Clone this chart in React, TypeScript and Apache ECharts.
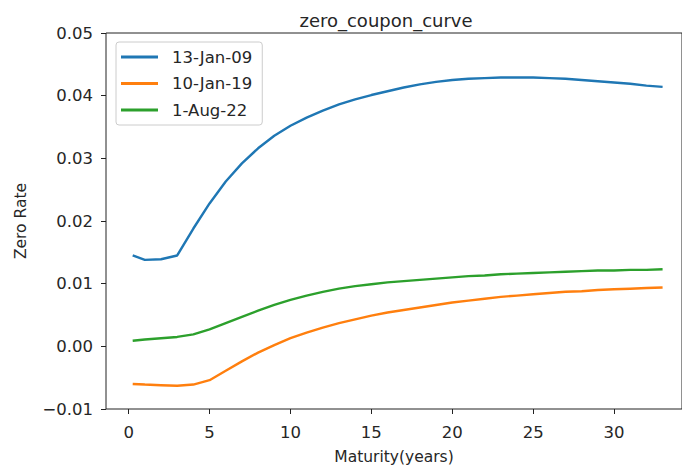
import React, { useEffect, useRef } from "react";
import * as echarts from "echarts";

const maturities = [0.25, 1, 2, 3, 4, 5, 6, 7, 8, 9, 10, 11, 12, 13, 14, 15, 16, 17, 18, 19, 20, 21, 22, 23, 24, 25, 26, 27, 28, 29, 30, 31, 32, 33];
const curve2009 = [0.0145, 0.0138, 0.0139, 0.0145, 0.0188, 0.0228, 0.0263, 0.0292, 0.0316, 0.0336, 0.0352, 0.0365, 0.0376, 0.0386, 0.0394, 0.0401, 0.0407, 0.0413, 0.0418, 0.0422, 0.0425, 0.0427, 0.0428, 0.0429, 0.0429, 0.0429, 0.0428, 0.0427, 0.0425, 0.0423, 0.0421, 0.0419, 0.0416, 0.0414];
const curve2019 = [-0.0060, -0.0061, -0.0062, -0.0063, -0.0061, -0.0054, -0.0039, -0.0024, -0.0010, 0.0002, 0.0013, 0.0022, 0.0030, 0.0037, 0.0043, 0.0049, 0.0054, 0.0058, 0.0062, 0.0066, 0.0070, 0.0073, 0.0076, 0.0079, 0.0081, 0.0083, 0.0085, 0.0087, 0.0088, 0.0090, 0.0091, 0.0092, 0.0093, 0.0094];
const curve2022 = [0.0009, 0.0011, 0.0013, 0.0015, 0.0019, 0.0027, 0.0037, 0.0047, 0.0057, 0.0066, 0.0074, 0.0081, 0.0087, 0.0092, 0.0096, 0.0099, 0.0102, 0.0104, 0.0106, 0.0108, 0.0110, 0.0112, 0.0113, 0.0115, 0.0116, 0.0117, 0.0118, 0.0119, 0.0120, 0.0121, 0.0121, 0.0122, 0.0122, 0.0123];
const seriesNames = ["13-Jan-09", "10-Jan-19", "1-Aug-22"];
const seriesColors = ["#1f77b4", "#ff7f0e", "#2ca02c"];
const xTicks = [0, 5, 10, 15, 20, 25, 30];
const yTicks = [-0.01, 0, 0.01, 0.02, 0.03, 0.04, 0.05];

const FONT = "DejaVu Sans";
const TEXT = "#262626";

export default function App() {
  const ref = useRef<HTMLDivElement>(null);
  useEffect(() => {
    if (!ref.current) return;
    const chart = echarts.init(ref.current, null, { renderer: "svg" });
    const all = [curve2009, curve2019, curve2022];
    chart.setOption({
      animation: false,
      backgroundColor: "#fff",
      textStyle: { fontFamily: FONT },
      title: {
        text: "zero_coupon_curve",
        left: 381,
        top: 6,
        textAlign: "center",
        textStyle: { fontFamily: FONT, fontSize: 18, fontWeight: "normal", color: TEXT },
      },
      legend: {
        orient: "vertical",
        left: 116,
        top: 42,
        padding: [6, 10, 6, 5],
        itemWidth: 37,
        itemHeight: 3,
        itemGap: 8.5,
        icon: "rect",
        backgroundColor: "#fff",
        borderColor: "#cccccc",
        borderWidth: 1,
        borderRadius: 3,
        textStyle: { fontFamily: FONT, fontSize: 16.5, color: TEXT, lineHeight: 18, padding: [0, 0, 0, 9] },
        data: seriesNames,
      },
      grid: { left: 106, top: 33, right: -2, bottom: 59, show: true, borderColor: "#222", borderWidth: 1, backgroundColor: "transparent" },
      xAxis: {
        type: "value",
        min: -1.4,
        max: 34.2,
        name: "Maturity(years)",
        nameLocation: "middle",
        nameGap: 40,
        nameTextStyle: { fontFamily: FONT, fontSize: 15.5, color: TEXT },
        axisLine: { show: false, onZero: false },
        axisTick: { show: true, length: 5, customValues: xTicks, lineStyle: { color: "#222" } },
        axisLabel: { customValues: xTicks, fontFamily: FONT, fontSize: 16.5, color: TEXT, margin: 15 },
        splitLine: { show: false },
      },
      yAxis: {
        type: "value",
        min: -0.01,
        max: 0.05,
        interval: 0.01,
        name: "Zero Rate",
        nameLocation: "middle",
        nameRotate: 90,
        nameGap: 77,
        nameTextStyle: { fontFamily: FONT, fontSize: 15.5, color: TEXT },
        axisLine: { show: false, onZero: false },
        axisTick: { show: true, length: 5, customValues: yTicks, lineStyle: { color: "#222" } },
        axisLabel: {
          customValues: yTicks,
          fontFamily: FONT,
          fontSize: 16.5,
          color: TEXT,
          margin: 13,
          formatter: (v: number) => v.toFixed(2).replace("-", "\u2212"),
        },
        splitLine: { show: false },
      },
      series: all.map((vals, i) => ({
        name: seriesNames[i],
        type: "line",
        symbol: "none",
        data: maturities.map((m, j) => [m, vals[j]]),
        lineStyle: { width: 2.4, color: seriesColors[i] },
        itemStyle: { color: seriesColors[i] },
      })),
    });
    return () => chart.dispose();
  }, []);
  return <div ref={ref} style={{ position: "fixed", left: 0, top: 0, width: 682, height: 470 }} />;
}
